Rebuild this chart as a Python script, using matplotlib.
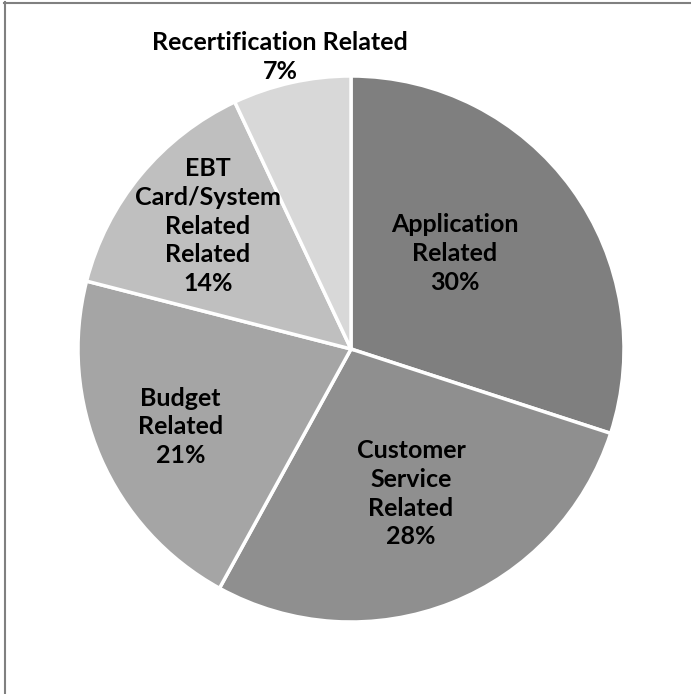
import matplotlib.pyplot as plt
from matplotlib.lines import Line2D

# complaint categories, clockwise from 12 o'clock
categories = ['Application\nRelated', 'Customer\nService\nRelated', 'Budget\nRelated',
              'EBT\nCard/System\nRelated\nRelated', 'Recertification Related']
shares = [30, 28, 21, 14, 7]
colours = ['#7f7f7f', '#8f8f8f', '#a5a5a5', '#bfbfbf', '#d8d8d8']

# where each label sits, as (x, y) in pie units (radius = 1)
label_pos = [(0.38, 0.35), (0.22, -0.53), (-0.625, -0.285), (-0.525, 0.45), (-0.26, 1.07)]

fig = plt.figure(figsize=(6.91, 6.94), dpi=100)
ax = fig.add_axes([(351 - 273) / 691, (694 - 349 - 273) / 694, 546 / 691, 546 / 694])

wedges, _ = ax.pie(shares, colors=colours, startangle=90, counterclock=False,
                   radius=1, wedgeprops=dict(edgecolor='white', linewidth=2.5))
ax.set_xlim(-1, 1)
ax.set_ylim(-1, 1)
ax.set_aspect('equal')
ax.axis('off')

for name, val, (x, y) in zip(categories, shares, label_pos):
    ax.text(x, y, f'{name}\n{val}%', ha='center', va='center', fontsize=18,
            fontweight='bold', family='Lato', color='black', linespacing=1.3,
            clip_on=False)

# frame edges of the chart area
fig.add_artist(Line2D([5 / 691, 5 / 691], [0, 1 - 2 / 694], transform=fig.transFigure,
                      color='#808080', linewidth=1.5))
fig.add_artist(Line2D([4 / 691, 1], [1 - 2.5 / 694, 1 - 2.5 / 694], transform=fig.transFigure,
                      color='#808080', linewidth=1.5))

fig.savefig('out.png', dpi=100)
